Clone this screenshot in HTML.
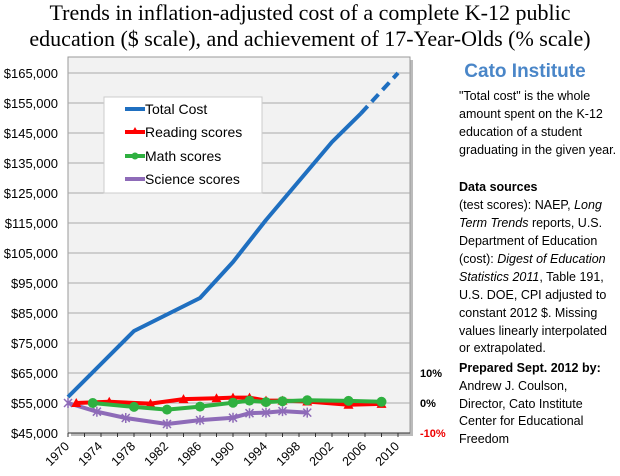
<!DOCTYPE html>
<html><head><meta charset="utf-8">
<style>
body{margin:0;background:#fff;width:620px;height:476px;overflow:hidden;font-family:"Liberation Sans",sans-serif}
svg{display:block}
</style></head><body>
<svg id="chart" width="620" height="476" xmlns="http://www.w3.org/2000/svg">
<text x="310" y="20" text-anchor="middle" font-family="Liberation Serif,serif" font-size="22" fill="#000">Trends in inflation-adjusted cost of a complete K-12 public</text>
<text x="310" y="46" text-anchor="middle" font-family="Liberation Serif,serif" font-size="22" fill="#000">education ($ scale), and achievement of 17-Year-Olds (% scale)</text>
<rect x="71" y="60" width="342" height="376" fill="#bbb"/>
<rect x="68" y="57" width="342" height="376" fill="#f2f2f2" stroke="#999"/>
<g id="grid"></g><g id="axes"></g><g id="series"></g>
<g>
<rect x="104" y="97" width="158" height="96" fill="#fff" stroke="#ccc"/>
<line x1="125" y1="109" x2="145" y2="109" stroke="#1f6fc0" stroke-width="4"/>
<text x="145" y="114" font-size="14">Total Cost</text>
<line x1="125" y1="132" x2="145" y2="132" stroke="#f00" stroke-width="4"/><polygon points="135,127 139,134 131,134" fill="#f00"/>
<text x="145" y="137" font-size="14">Reading scores</text>
<line x1="125" y1="156" x2="145" y2="156" stroke="#2fb040" stroke-width="4"/><circle cx="135" cy="156" r="3.5" fill="#2fb040"/>
<text x="145" y="161" font-size="14">Math scores</text>
<line x1="125" y1="179" x2="145" y2="179" stroke="#8e6bb8" stroke-width="4"/>
<text x="145" y="184" font-size="14">Science scores</text>
</g>
<g font-size="12.5" fill="#000">
<text x="525" y="77" text-anchor="middle" font-size="19" font-weight="bold" fill="#4a86c8">Cato Institute</text>
<text x="459" y="100">"Total cost" is the whole</text>
<text x="459" y="118">amount spent on the K-12</text>
<text x="459" y="136">education of a student</text>
<text x="459" y="154">graduating in the given year.</text>
<text x="459" y="191" font-weight="bold">Data sources</text>
<text x="459" y="209">(test scores): NAEP, <tspan font-style="italic">Long</tspan></text>
<text x="459" y="227"><tspan font-style="italic">Term Trends</tspan> reports, U.S.</text>
<text x="459" y="245">Department of Education</text>
<text x="459" y="263">(cost): <tspan font-style="italic">Digest of Education</tspan></text>
<text x="459" y="281"><tspan font-style="italic">Statistics 2011</tspan>, Table 191,</text>
<text x="459" y="299">U.S. DOE, CPI adjusted to</text>
<text x="459" y="317">constant 2012 $.  Missing</text>
<text x="459" y="335">values linearly interpolated</text>
<text x="459" y="352">or extrapolated.</text>
<text x="459" y="372" font-weight="bold">Prepared Sept. 2012 by:</text>
<text x="459" y="390">Andrew J. Coulson,</text>
<text x="459" y="408">Director, Cato Institute</text>
<text x="459" y="425">Center for Educational</text>
<text x="459" y="443">Freedom</text>
</g>
</svg>
<script>
const costYears=[1970,1974,1978,1982,1986,1990,1994,1998,2002,2005.5];
const costValues=[57000,68000,79000,84500,90000,102000,116000,129000,142000,151500];
const costProjYears=[2005.5,2010];
const costProjValues=[151500,165000];
const readingYears=[1971,1975,1980,1984,1988,1990,1992,1994,1996,1999,2004,2008];
const readingPct=[0,0.4,-0.2,1.3,1.6,1.8,1.8,0.8,0.8,0.5,-0.6,-0.3];
const mathYears=[1973,1978,1982,1986,1990,1992,1994,1996,1999,2004,2008];
const mathPct=[0,-1.3,-2.2,-1.2,0.1,0.8,0.3,0.6,0.9,0.7,0.4];
const sciYears=[1970,1973.5,1977,1982,1986,1990,1992,1994,1996,1999];
const sciPct=[0,-2.9,-5,-7,-5.7,-4.9,-3.4,-3.2,-2.7,-3.2];
const dollarTicks=[45000,55000,65000,75000,85000,95000,105000,115000,125000,135000,145000,155000,165000];
const yearTicks=[1970,1974,1978,1982,1986,1990,1994,1998,2002,2006,2010];
const pctTicks=[10,0,-10];
const NS='http://www.w3.org/2000/svg';
const X=y=>68+(y-1970)*8.25;
const Y=v=>433-(v-45000)*0.003;
const P=p=>403-p*3;
function mk(t,a,parent){const e=document.createElementNS(NS,t);for(const k in a)e.setAttribute(k,a[k]);parent.appendChild(e);return e;}
const grid=document.getElementById('grid'),axes=document.getElementById('axes'),ser=document.getElementById('series');
dollarTicks.forEach(v=>{
 const l=mk('line',{x1:68,x2:410,y1:Y(v),y2:Y(v),stroke:'#aaa','stroke-width':1},grid);
 
 
 const t=mk('text',{x:58,y:Y(v)+5,'text-anchor':'end','font-size':13},axes);
 t.textContent='$'+v.toLocaleString('en-US');
 
 
});
for(let yr=1970;yr<=2010;yr+=2){mk('line',{x1:X(yr),x2:X(yr),y1:433,y2:437,stroke:'#333'},axes);}
mk('line',{x1:68,x2:410,y1:433,y2:433,stroke:'#333'},axes);
yearTicks.forEach(yr=>{
 const t=mk('text',{x:X(yr)+2,y:447,'text-anchor':'end','font-size':12.5,transform:`rotate(-45 ${X(yr)+2} 447)`},axes);
 t.textContent=yr;
 
 
});
pctTicks.forEach(p=>{
 const t=mk('text',{x:420,y:P(p)+4,'font-size':11,'font-weight':'bold',fill:p<0?'#e00':'#000'},axes);
 t.textContent=(p<0?'-':'')+Math.abs(p)+'%';
 
 
});
function line(xs,ys,fx,fy,color,name,dash){
 const pl=mk('polyline',{points:xs.map((x,i)=>fx(x)+','+fy(ys[i])).join(' '),fill:'none',stroke:color,'stroke-width':4,'stroke-linejoin':'round'},ser);
 if(dash)pl.setAttribute('stroke-dasharray',dash);
 
 
}
line(costYears,costValues,X,Y,'#1f6fc0','total-cost-line');
line(costProjYears,costProjValues,X,Y,'#1f6fc0','total-cost-projection','10,6');
line(sciYears,sciPct,X,P,'#8e6bb8','science-line');
sciYears.forEach((yr,i)=>{const cx=X(yr),cy=P(sciPct[i]);
 const m=mk('path',{d:`M${cx-4},${cy-4}L${cx+4},${cy+4}M${cx-4},${cy+4}L${cx+4},${cy-4}M${cx},${cy-5}L${cx},${cy+5}`,stroke:'#8e6bb8','stroke-width':1.5},ser);
 
 });
line(readingYears,readingPct,X,P,'#f00','reading-line');
readingYears.forEach((yr,i)=>{const cx=X(yr),cy=P(readingPct[i]);
 const m=mk('polygon',{points:`${cx},${cy-5} ${cx+5},${cy+4} ${cx-5},${cy+4}`,fill:'#f00'},ser);
 
 });
line(mathYears,mathPct,X,P,'#2fb040','math-line');
mathYears.forEach((yr,i)=>{
 const m=mk('circle',{cx:X(yr),cy:P(mathPct[i]),r:5,fill:'#2fb040'},ser);
 
 });
</script>
</body></html>
